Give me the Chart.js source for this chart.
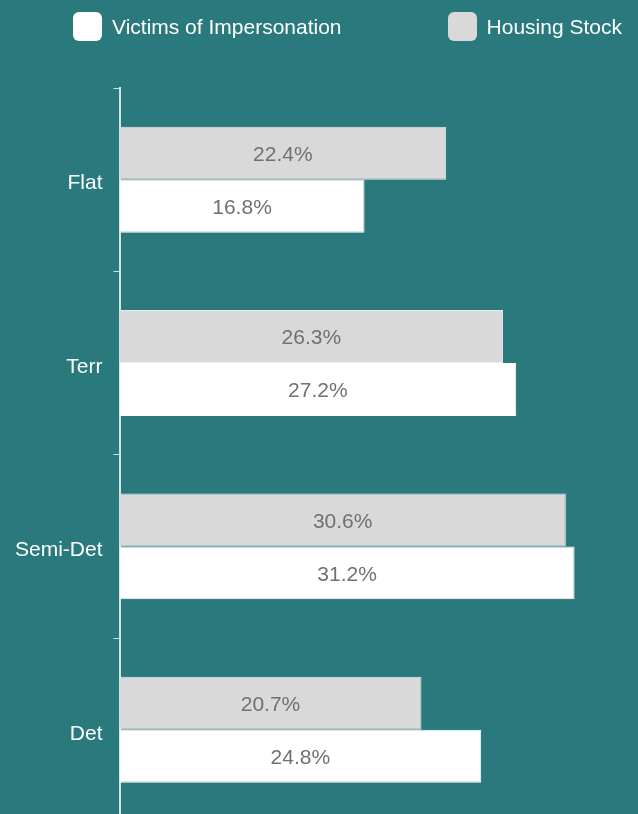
<!DOCTYPE html>
<html>
<head>
<meta charset="utf-8">
<script src="https://cdn.jsdelivr.net/npm/chart.js@4.4.0/dist/chart.umd.min.js"></script>
<style>
    html, body { margin: 0; padding: 0; background: #2a797d; overflow: hidden; }
    #wrap { width: 638px; height: 845px; position: relative; }
    #legend {
        position: absolute; left: 0; top: 12px; width: 638px;
        display: flex; justify-content: space-between;
        box-sizing: border-box; padding: 0 16px 0 73px;
        font: 21px "Liberation Sans", Arial, sans-serif; color: #fff;
    }
    #legend .item { display: flex; align-items: center; height: 29px; }
    #legend .box { width: 29px; height: 29px; border-radius: 6px; margin-right: 10px; }
</style>
</head>
<body>
<div id="wrap">
    <div id="legend"></div>
    <canvas id="barChart"></canvas>
</div>
<script>
const categories = ['Flat', 'Terr', 'Semi-Det', 'Det'];
const housingStock = [22.4, 26.3, 30.6, 20.7];
const victims = [16.8, 27.2, 31.2, 24.8];

const fontFamily = '"Liberation Sans", Arial, sans-serif';

// print each value in the middle of its bar
const valueLabels = {
    id: 'valueLabels',
    afterDatasetsDraw(chart) {
        const ctx = chart.ctx;
        ctx.save();
        ctx.font = '21px ' + fontFamily;
        ctx.fillStyle = '#717171';
        ctx.textAlign = 'center';
        ctx.textBaseline = 'middle';
        chart.data.datasets.forEach((ds, i) => {
            chart.getDatasetMeta(i).data.forEach((bar, j) => {
                ctx.fillText(ds.data[j].toFixed(1) + '%', (bar.x + bar.base) / 2, bar.y + 2);
            });
        });
        ctx.restore();
    }
};

const ctx = document.getElementById('barChart');
const chart = new Chart(ctx, {
    type: 'bar',
    data: {
        labels: categories,
        datasets: [
            {
                label: 'Housing Stock',
                data: housingStock,
                backgroundColor: '#d9d9d9',
                borderColor: '#ebebeb',
                borderWidth: 1
            },
            {
                label: 'Victims of Impersonation',
                data: victims,
                backgroundColor: '#ffffff',
                borderColor: '#ffffff',
                borderWidth: 1
            }
        ]
    },
    options: {
        indexAxis: 'y',
        responsive: true,
        maintainAspectRatio: false,
        animation: false,
        categoryPercentage: 0.578,
        barPercentage: 1,
        layout: { padding: { left: 4, right: 8, top: 88, bottom: 0 } },
        scales: {
            x: {
                display: false,
                min: 0,
                max: 35
            },
            y: {
                offset: true,
                border: { color: '#d5e3e3', width: 2 },
                grid: {
                    offset: true,
                    drawOnChartArea: false,
                    tickLength: 6,
                    color: '#d5e3e3',
                    lineWidth: 1
                },
                ticks: {
                    color: '#ffffff',
                    padding: 11,
                    labelOffset: 4,
                    font: { size: 21, family: fontFamily }
                }
            }
        },
        plugins: {
            legend: { display: false },
            tooltip: { enabled: false }
        }
    },
    plugins: [valueLabels]
});

// legend lists the series bottom-up, built from the chart's own datasets
const legendEl = document.getElementById('legend');
chart.data.datasets.slice().reverse().forEach(ds => {
    const item = document.createElement('div');
    item.className = 'item';
    item.innerHTML = `<span class="box" style="background:${ds.backgroundColor}"></span><span>${ds.label}</span>`;
    legendEl.appendChild(item);
});
</script>
</body>
</html>
